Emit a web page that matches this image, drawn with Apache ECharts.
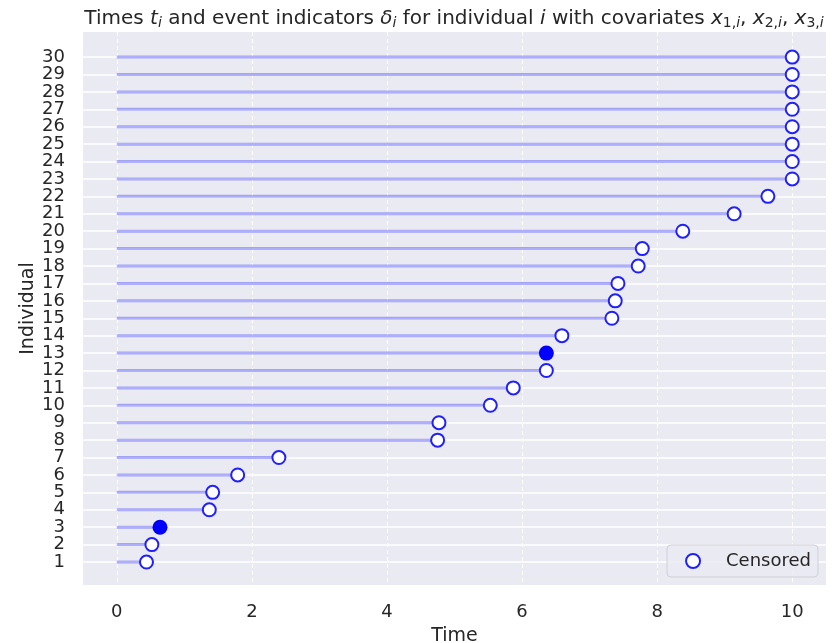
<!DOCTYPE html>
<html>
<head>
<meta charset="utf-8">
<script src="https://cdn.jsdelivr.net/npm/echarts@6/dist/echarts.min.js"></script>
<style>
  html, body { margin: 0; padding: 0; background: #ffffff; }
  #chart { width: 838px; height: 643px; }
</style>
</head>
<body>
<div id="chart"></div>
<script>
// Individuals 1..30, their observed times and event indicators (1 = event, 0 = censored)
const individuals = [1, 2, 3, 4, 5, 6, 7, 8, 9, 10, 11, 12, 13, 14, 15, 16, 17, 18, 19, 20, 21, 22, 23, 24, 25, 26, 27, 28, 29, 30];
const times = [0.44, 0.52, 0.64, 1.37, 1.42, 1.79, 2.40, 4.75, 4.77, 5.53, 5.87, 6.36, 6.36, 6.59, 7.33, 7.38, 7.42, 7.72, 7.78, 8.38, 9.14, 9.64, 10, 10, 10, 10, 10, 10, 10, 10];
const events = [0, 0, 1, 0, 0, 0, 0, 0, 0, 0, 0, 0, 1, 0, 0, 0, 0, 0, 0, 0, 0, 0, 0, 0, 0, 0, 0, 0, 0, 0];
const xTicks = [0, 2, 4, 6, 8, 10];

const FONT = 'DejaVu Sans';
const TEXT = '#262626';
const Y_MIN = -0.32;
const Y_MAX = 31.44;

const spans = individuals.map((id, k) => [times[k], id]);
const censored = individuals.map((id, k) => [times[k], id, events[k]]).filter(d => d[2] === 0).map(d => [d[0], d[1]]);
const observed = individuals.map((id, k) => [times[k], id, events[k]]).filter(d => d[2] === 1).map(d => [d[0], d[1]]);

// The tightly packed row labels are split over two stacked left axes
// (odd rows / even rows) so that none of them gets dropped as overlapping.
const oddRows = individuals.filter(v => v % 2 === 1);
const evenRows = individuals.filter(v => v % 2 === 0);

const chart = echarts.init(document.getElementById('chart'), null, { renderer: 'canvas' });

// Title pieces: upright text, italic symbols, lowered subscripts
const base = { fontFamily: FONT, fontSize: 20, color: TEXT, fontWeight: 'normal' };
const it = { fontFamily: FONT, fontSize: 20, color: TEXT, fontWeight: 'normal', fontStyle: 'italic' };
const sub = { fontFamily: FONT, fontSize: 14, color: TEXT, fontWeight: 'normal', padding: [9, 0, 0, 0] };
const subIt = { fontFamily: FONT, fontSize: 14, color: TEXT, fontWeight: 'normal', fontStyle: 'italic', padding: [9, 0, 0, 0] };

const rowLabel = { showMinLabel: true, showMaxLabel: true, hideOverlap: false, fontFamily: FONT, fontSize: 18, color: TEXT, margin: 18 };

chart.setOption({
  backgroundColor: '#ffffff',
  animation: false,
  title: {
    text: '{n|Times }{i|t}{si|i}{n| and event indicators }{i|δ}{si|i}{n| for individual }{i|i}{n| with covariates }' +
          '{i|x}{s|1,}{si|i}{n|, }{i|x}{s|2,}{si|i}{n|, }{i|x}{s|3,}{si|i}',
    left: 449,
    textAlign: 'center',
    top: 2,
    textStyle: {
      fontWeight: 'normal',
      fontFamily: FONT,
      rich: { n: base, i: it, s: sub, si: subIt }
    }
  },
  grid: {
    left: 83, right: 12, top: 32, bottom: 58,
    containLabel: false, outerBoundsMode: 'none',
    backgroundColor: '#eaeaf2', show: true, borderWidth: 0
  },
  legend: {
    data: ['Censored'],
    right: 20,
    bottom: 66,
    orient: 'vertical',
    backgroundColor: 'rgba(234,234,242,0.8)',
    borderColor: '#cfcfd6',
    borderWidth: 1,
    borderRadius: 4,
    padding: [7, 7, 7, 18],
    itemWidth: 40,
    itemHeight: 14,
    textStyle: { fontFamily: FONT, fontSize: 18, color: TEXT, padding: [0, 0, 0, 8] }
  },
  xAxis: {
    type: 'value',
    min: -0.5,
    max: 10.5,
    name: 'Time',
    nameLocation: 'middle',
    nameGap: 42,
    nameTextStyle: { fontFamily: FONT, fontSize: 19, color: TEXT },
    axisLine: { show: false },
    axisTick: { show: false, customValues: xTicks },
    axisLabel: { customValues: xTicks, showMinLabel: true, showMaxLabel: true, fontFamily: FONT, fontSize: 18, color: TEXT, margin: 18 },
    splitLine: { show: true, lineStyle: { color: '#ffffff', width: 1, type: [4, 3] } }
  },
  yAxis: [
    {
      type: 'value',
      position: 'left',
      min: Y_MIN,
      max: Y_MAX,
      name: 'Individual',
      nameLocation: 'middle',
      nameGap: 45,
      nameMoveOverlap: false,
      nameTextStyle: { fontFamily: FONT, fontSize: 19, color: TEXT },
      axisLine: { show: false },
      axisTick: { show: false, customValues: oddRows },
      axisLabel: Object.assign({ customValues: oddRows }, rowLabel),
      splitLine: { show: false }
    },
    {
      type: 'value',
      position: 'left',
      offset: 0,
      min: Y_MIN,
      max: Y_MAX,
      axisLine: { show: false },
      axisTick: { show: false, customValues: evenRows },
      axisLabel: Object.assign({ customValues: evenRows }, rowLabel),
      splitLine: { show: false }
    },
    {
      // horizontal white grid lines at every row
      type: 'value',
      position: 'left',
      min: Y_MIN,
      max: Y_MAX,
      axisLine: { show: false },
      axisTick: { show: false, customValues: individuals },
      axisLabel: { show: false, customValues: individuals },
      splitLine: { show: true, lineStyle: { color: '#ffffff', width: 1.5 } }
    }
  ],
  series: [
    {
      name: 'span',
      type: 'custom',
      data: spans,
      z: 2,
      renderItem: function (params, api) {
        const y = api.value(1);
        const p0 = api.coord([0, y]);
        const p1 = api.coord([api.value(0), y]);
        return {
          type: 'line',
          shape: { x1: p0[0], y1: p0[1], x2: p1[0], y2: p1[1] },
          style: { stroke: 'rgba(0,0,255,0.3)', lineWidth: 3 }
        };
      }
    },
    {
      name: 'Censored',
      type: 'scatter',
      data: censored,
      z: 3,
      symbol: 'circle',
      symbolSize: 13,
      itemStyle: { color: '#ffffff', borderColor: '#2020ff', borderWidth: 2, opacity: 1 }
    },
    {
      name: 'Event',
      type: 'scatter',
      data: observed,
      z: 3,
      symbol: 'circle',
      symbolSize: 15,
      itemStyle: { color: '#0000ff', borderWidth: 0, opacity: 1 }
    }
  ]
});
</script>
</body>
</html>
